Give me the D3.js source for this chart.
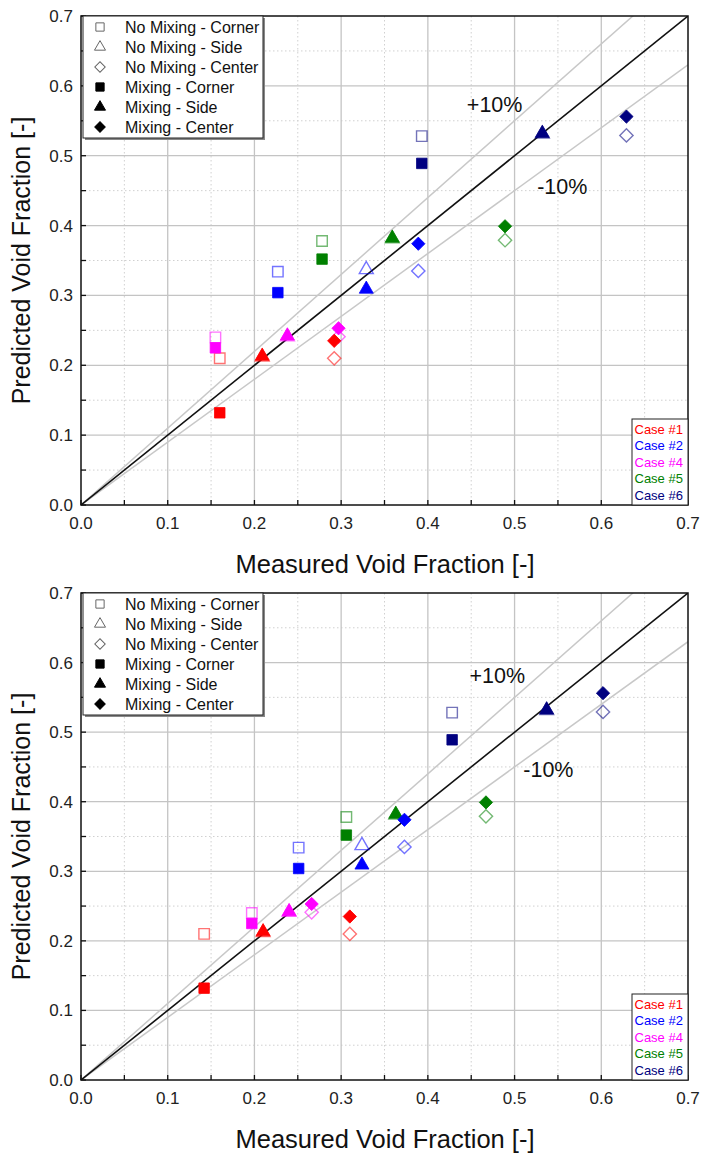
<!DOCTYPE html>
<html>
<head>
<meta charset="utf-8">
<script src="https://cdn.jsdelivr.net/npm/d3@7"></script>
<style>
  body { margin: 0; background: #fff; }
  svg text { font-family: "Liberation Sans", Arial, sans-serif; }
</style>
</head>
<body>
<svg id="chart" width="705" height="1156"></svg>
<script>
// cases and colours
const cases = ['Case #1', 'Case #2', 'Case #4', 'Case #5', 'Case #6'];
const caseColors = ['#ff0000', '#0000ff', '#ff00ff', '#008000', '#000080'];

// series (marker legend)
const seriesNames = ['No Mixing - Corner', 'No Mixing - Side', 'No Mixing - Center',
                     'Mixing - Corner', 'Mixing - Side', 'Mixing - Center'];
const seriesShapes = ['square', 'triangle', 'diamond', 'square', 'triangle', 'diamond'];
const seriesFilled = [false, false, false, true, true, true];

// predicted void fraction, per case (same in both panels)
const predNoMixCorner = [0.210, 0.334, 0.240, 0.378, 0.528];
const predNoMixSide   = [0.212, 0.337, 0.241, 0.381, 0.531];
const predNoMixCenter = [0.210, 0.335, 0.241, 0.379, 0.529];
const predMixCorner   = [0.132, 0.304, 0.225, 0.352, 0.489];
const predMixSide     = [0.213, 0.309, 0.242, 0.382, 0.532];
const predMixCenter   = [0.235, 0.374, 0.253, 0.399, 0.556];

// measured void fraction, top panel
const measCornerTop = [0.160, 0.227, 0.155, 0.278, 0.393];
const measSideTop   = [0.209, 0.329, 0.238, 0.359, 0.532];
const measCenterTop = [0.292, 0.389, 0.297, 0.489, 0.629];

// measured void fraction, bottom panel
const measCornerBot = [0.142, 0.251, 0.197, 0.306, 0.428];
const measSideBot   = [0.210, 0.324, 0.240, 0.363, 0.537];
const measCenterBot = [0.310, 0.373, 0.266, 0.467, 0.602];

const majorTicks = [0, 0.1, 0.2, 0.3, 0.4, 0.5, 0.6, 0.7];
const minorTicks = [0.05, 0.15, 0.25, 0.35, 0.45, 0.55, 0.65];
const bandFactors = [1.1, 0.9];
const bandLabels = ['+10%', '-10%'];

const svg = d3.select('#chart');
const fmt = d3.format('.1f');

// square, triangle, or a square turned 45 degrees
function markerPath(shape, scale) {
    const k = scale || 1;
    if (shape === 'square') return d3.symbol(d3.symbolSquare, 110 * k)();
    if (shape === 'triangle') return d3.symbol(d3.symbolTriangle, 85 * k)();
    return d3.symbol(d3.symbolSquare, 88 * k)();
}
function markerRotate(shape) {
    return shape === 'diamond' ? ' rotate(45)' : '';
}

function drawPanel(top, height, measured, labelPos) {
    const left = 81, right = 688;
    const x = d3.scaleLinear().domain([0, 0.7]).range([left, right]);
    const y = d3.scaleLinear().domain([0, 0.7]).range([top + height, top]);
    const g = svg.append('g');

    const clipId = 'clip' + top;
    g.append('clipPath').attr('id', clipId)
        .append('rect').attr('x', left).attr('y', top).attr('width', right - left).attr('height', height);

    // grid
    const grid = g.append('g');
    grid.selectAll('.minx').data(minorTicks).enter().append('line')
        .attr('x1', d => x(d)).attr('x2', d => x(d)).attr('y1', top).attr('y2', top + height)
        .attr('stroke', '#d0d0d0').attr('stroke-dasharray', '1.5,2.5');
    grid.selectAll('.miny').data(minorTicks).enter().append('line')
        .attr('y1', d => y(d)).attr('y2', d => y(d)).attr('x1', left).attr('x2', right)
        .attr('stroke', '#d0d0d0').attr('stroke-dasharray', '1.5,2.5');
    grid.selectAll('.majx').data(majorTicks.slice(1, -1)).enter().append('line')
        .attr('x1', d => x(d)).attr('x2', d => x(d)).attr('y1', top).attr('y2', top + height)
        .attr('stroke', '#c4c4c4').attr('stroke-width', 1.3);
    grid.selectAll('.majy').data(majorTicks.slice(1, -1)).enter().append('line')
        .attr('y1', d => y(d)).attr('y2', d => y(d)).attr('x1', left).attr('x2', right)
        .attr('stroke', '#c4c4c4').attr('stroke-width', 1.3);

    // reference lines
    const lines = g.append('g').attr('clip-path', `url(#${clipId})`);
    bandFactors.forEach(f => {
        lines.append('line')
            .attr('x1', x(0)).attr('y1', y(0)).attr('x2', x(0.7)).attr('y2', y(0.7 * f))
            .attr('stroke', '#c8c8c8').attr('stroke-width', 1.5);
    });
    lines.append('line')
        .attr('x1', x(0)).attr('y1', y(0)).attr('x2', x(0.7)).attr('y2', y(0.7))
        .attr('stroke', '#111').attr('stroke-width', 1.6);

    bandLabels.forEach((t, i) => {
        g.append('text').attr('x', x(labelPos[i][0])).attr('y', y(labelPos[i][1]))
            .attr('text-anchor', 'middle').attr('dominant-baseline', 'middle')
            .attr('font-size', 21.5).attr('fill', '#111').text(t);
    });

    // points
    const measuredBy = [measured[0], measured[1], measured[2], measured[0], measured[1], measured[2]];
    const predBy = [predNoMixCorner, predNoMixSide, predNoMixCenter, predMixCorner, predMixSide, predMixCenter];
    const pts = g.append('g');
    seriesNames.forEach((s, si) => {
        const rows = cases.map((c, ci) => ({ mx: measuredBy[si][ci], py: predBy[si][ci], color: caseColors[ci] }));
        pts.selectAll(null).data(rows).enter().append('path')
            .attr('d', markerPath(seriesShapes[si]))
            .attr('transform', d => `translate(${x(d.mx)},${y(d.py)})` + markerRotate(seriesShapes[si]))
            .attr('fill', d => seriesFilled[si] ? d.color : 'none')
            .attr('stroke', d => d.color)
            .attr('stroke-opacity', seriesFilled[si] ? 1 : 0.55)
            .attr('stroke-width', seriesFilled[si] ? 0.8 : 1.4);
    });

    // frame
    g.append('rect').attr('x', left).attr('y', top).attr('width', right - left).attr('height', height)
        .attr('fill', 'none').attr('stroke', '#111').attr('stroke-width', 1.5);

    // inward ticks on bottom and left
    const allTicks = majorTicks.concat(minorTicks);
    g.selectAll(null).data(allTicks).enter().append('line')
        .attr('x1', d => x(d)).attr('x2', d => x(d)).attr('y1', top + height).attr('y2', top + height - 5)
        .attr('stroke', '#111').attr('stroke-width', 1.3);
    g.selectAll(null).data(allTicks).enter().append('line')
        .attr('y1', d => y(d)).attr('y2', d => y(d)).attr('x1', left).attr('x2', left + 5)
        .attr('stroke', '#111').attr('stroke-width', 1.3);

    // tick labels
    g.selectAll(null).data(majorTicks).enter().append('text')
        .attr('x', d => x(d)).attr('y', top + height + 24)
        .attr('text-anchor', 'middle').attr('font-size', 17).attr('fill', '#222')
        .text(d => fmt(d));
    g.selectAll(null).data(majorTicks).enter().append('text')
        .attr('x', left - 8).attr('y', d => y(d) + 6)
        .attr('text-anchor', 'end').attr('font-size', 17).attr('fill', '#222')
        .text(d => fmt(d));

    // axis titles
    g.append('text').attr('x', 385).attr('y', top + height + 68)
        .attr('text-anchor', 'middle').attr('font-size', 25.5).attr('fill', '#111')
        .text('Measured Void Fraction [-]');
    g.append('text')
        .attr('transform', `translate(30,${top + height / 2}) rotate(-90)`)
        .attr('text-anchor', 'middle').attr('font-size', 25).attr('fill', '#111')
        .text('Predicted Void Fraction [-]');

    // series legend
    const lg = g.append('g').attr('transform', `translate(83,${top})`);
    lg.append('rect').attr('x', 2).attr('y', 2).attr('width', 180).attr('height', 122).attr('fill', '#888');
    lg.append('rect').attr('x', 0).attr('y', 0).attr('width', 180).attr('height', 122)
        .attr('fill', '#fff').attr('stroke', '#222').attr('stroke-width', 1);
    seriesNames.forEach((s, i) => {
        const cy = 11 + i * 20;
        lg.append('path')
            .attr('d', markerPath(seriesShapes[i], 0.62))
            .attr('transform', `translate(17,${cy})` + markerRotate(seriesShapes[i]))
            .attr('fill', seriesFilled[i] ? '#000' : 'none')
            .attr('stroke', seriesFilled[i] ? '#000' : '#666').attr('stroke-width', 1);
        lg.append('text').attr('x', 42).attr('y', cy + 5.5).attr('font-size', 16).attr('fill', '#111').text(s);
    });

    // case legend
    const cl = g.append('g').attr('transform', `translate(632,${top + height - 86})`);
    cl.append('rect').attr('x', 0).attr('y', 0).attr('width', 56).attr('height', 86)
        .attr('fill', '#fff').attr('stroke', '#222').attr('stroke-width', 1);
    cases.forEach((c, i) => {
        cl.append('text').attr('x', 2.5).attr('y', 14.5 + i * 16.5).attr('font-size', 13)
            .attr('fill', caseColors[i]).text(c);
    });
}

drawPanel(16, 489, [measCornerTop, measSideTop, measCenterTop], [[0.477, 0.57], [0.555, 0.453]]);
drawPanel(593, 487, [measCornerBot, measSideBot, measCenterBot], [[0.48, 0.579], [0.539, 0.444]]);
</script>
</body>
</html>
